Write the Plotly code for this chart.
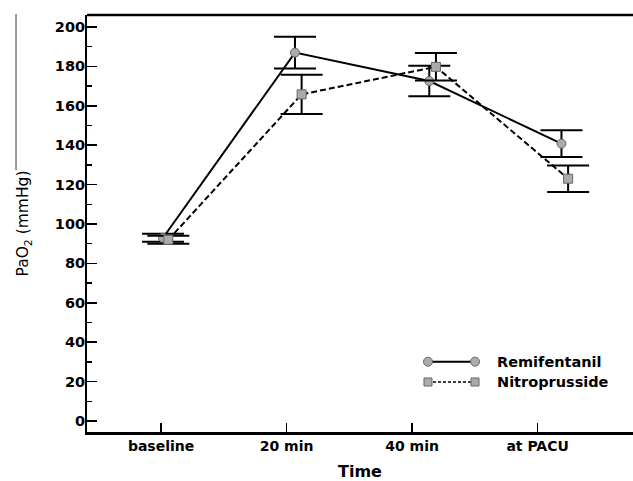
import plotly.graph_objects as go

# ---- data ----
time_labels = ["baseline", "20 min", "40 min", "at PACU"]
time_ticks = [0, 1, 2, 3]
remi_x = [0.016, 1.067, 2.137, 3.19]
nitro_x = [0.058, 1.12, 2.19, 3.243]
remi_mean = [93, 187, 172.6, 140.8]
remi_err = [2, 8, 7.7, 6.8]
nitro_mean = [92, 165.8, 179.8, 123]
nitro_err = [2, 10, 7, 6.7]
y_ticks = list(range(0, 201, 20))
y_minor = list(range(10, 200, 20))

FONT = "DejaVu Sans"
marker_fill = "#ababab"
marker_line = "#666666"

fig = go.Figure()

fig.add_trace(go.Scatter(
    x=remi_x, y=remi_mean, mode="lines+markers", name="Remifentanil",
    line=dict(color="black", width=2),
    marker=dict(symbol="circle", size=9, color=marker_fill, line=dict(color=marker_line, width=1)),
    error_y=dict(type="data", array=remi_err, visible=True, color="black", thickness=2, width=21),
    showlegend=False,
))
fig.add_trace(go.Scatter(
    x=nitro_x, y=nitro_mean, mode="lines+markers", name="Nitroprusside",
    line=dict(color="black", width=2, dash="6px,3px"),
    marker=dict(symbol="square", size=9, color=marker_fill, line=dict(color=marker_line, width=1)),
    error_y=dict(type="data", array=nitro_err, visible=True, color="black", thickness=2, width=21),
    showlegend=False,
))

# custom legend on an overlay axis (0..1 coordinates over the plot area)
leg_x = [0.6245, 0.7106]
leg_y = [0.1686, 0.1199]
fig.add_trace(go.Scatter(
    x=leg_x, y=[leg_y[0]] * 2, xaxis="x2", yaxis="y2", mode="lines+markers",
    line=dict(color="black", width=2),
    marker=dict(symbol="circle", size=9, color=marker_fill, line=dict(color=marker_line, width=1)),
    showlegend=False, hoverinfo="skip",
))
fig.add_trace(go.Scatter(
    x=leg_x, y=[leg_y[1]] * 2, xaxis="x2", yaxis="y2", mode="lines+markers",
    line=dict(color="black", width=1.5, dash="3px,2px"),
    marker=dict(symbol="square", size=8, color=marker_fill, line=dict(color=marker_line, width=1)),
    showlegend=False, hoverinfo="skip",
))
for name, yy in zip(["Remifentanil", "Nitroprusside"], leg_y):
    fig.add_annotation(x=0.747, y=yy, xref="x2", yref="y2", text=name, showarrow=False,
                       xanchor="left", yanchor="middle",
                       font=dict(family=FONT, size=14.5, color="black", weight="bold"))

# top frame line and the thin stray rule at far left
fig.add_shape(type="line", xref="paper", yref="paper", x0=0, x1=1.02, y0=1, y1=1,
              line=dict(color="black", width=2.5), layer="above")
fig.add_shape(type="line", xref="paper", yref="paper", x0=-0.130, x1=-0.130, y0=1.0024, y1=0.628,
              line=dict(color="#333333", width=1))

fig.update_layout(
    width=633, height=481,
    margin=dict(l=87, r=0, t=15, b=49),
    paper_bgcolor="white", plot_bgcolor="white",
    font=dict(family=FONT, color="black"),
    dragmode=False, hovermode=False,
    xaxis=dict(
        range=[-0.59, 3.76], tickvals=time_ticks, ticktext=time_labels, fixedrange=True,
        ticks="inside", ticklen=9, tickwidth=1.5, tickcolor="black",
        showline=True, linecolor="black", linewidth=2.5, mirror=False,
        showgrid=False, zeroline=False,
        tickfont=dict(family=FONT, size=14, color="black", weight="bold"),
        title=dict(text="Time", font=dict(family=FONT, size=16, color="black", weight="bold"), standoff=15),
    ),
    yaxis=dict(
        range=[-5.6, 206.1], tickvals=y_ticks, fixedrange=True,
        ticks="inside", ticklen=10, tickwidth=1.5, tickcolor="black",
        minor=dict(tickvals=y_minor, ticks="inside", ticklen=5, tickwidth=1.5, tickcolor="black"),
        showline=True, linecolor="black", linewidth=2, mirror=False,
        showgrid=False, zeroline=False, ticklabelstandoff=-3,
        tickfont=dict(family=FONT, size=14.5, color="black", weight="bold"),
        title=dict(text="PaO<sub>2</sub> (mmHg)", font=dict(family=FONT, size=15.5, color="black"), standoff=22),
    ),
    xaxis2=dict(overlaying="x", anchor="y2", range=[0, 1], visible=False, fixedrange=True),
    yaxis2=dict(overlaying="y", anchor="x2", range=[0, 1], visible=False, fixedrange=True),
)

fig.write_html("out.html", config={"staticPlot": True})
